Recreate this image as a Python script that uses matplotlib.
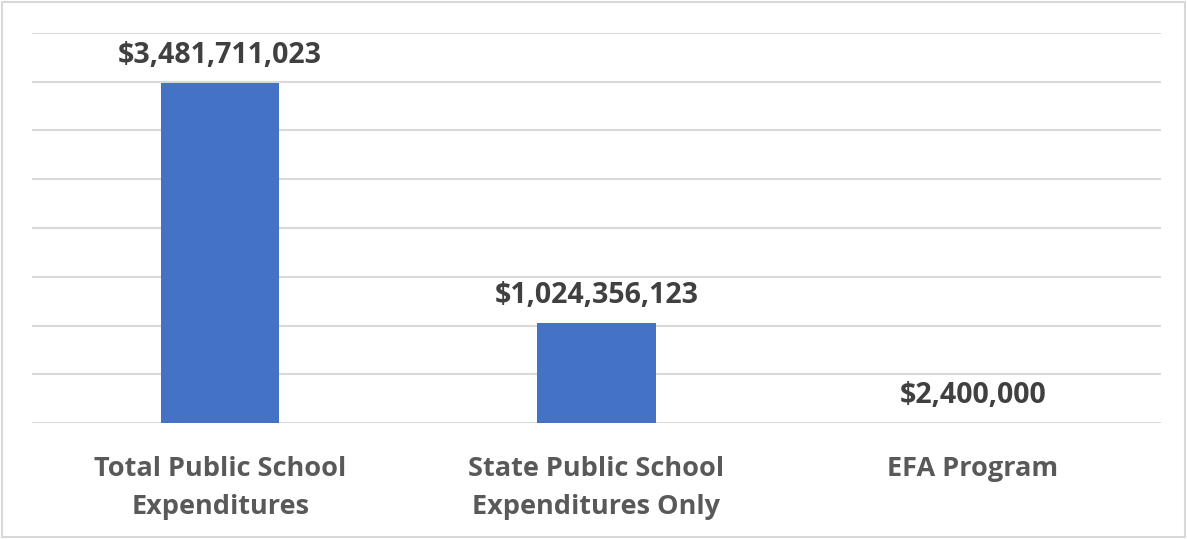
import matplotlib.pyplot as plt
from matplotlib.patches import Rectangle

# data
categories = ['Total Public School\nExpenditures', 'State Public School\nExpenditures Only', 'EFA Program']
values = [3481711023, 1024356123, 2400000]
labels = ['$3,481,711,023', '$1,024,356,123', '$2,400,000']

plt.rcParams['font.family'] = ['Open Sans', 'DejaVu Sans']

fig = plt.figure(figsize=(11.87, 5.39), dpi=100)
ax = fig.add_axes([32 / 1187, 1 - 423.3 / 539, 1129 / 1187, 390.6 / 539])

x = range(len(values))
ax.bar(x, values, width=0.314, color='#4472C4', zorder=3)

ax.set_ylim(0, 4e9)
ax.set_xlim(-0.5, 2.5)
ax.set_yticks([i * 0.5e9 for i in range(9)])
ax.yaxis.grid(True, color='#D9D9D9', linewidth=1.5, zorder=0)
ax.tick_params(axis='y', left=False, labelleft=False)
ax.tick_params(axis='x', bottom=False, pad=20)
ax.set_xticks(list(x))
ax.set_xticklabels(categories, fontsize=19.5, fontweight='bold', color='#595959', linespacing=1.6)
for s in ax.spines.values():
    s.set_visible(False)

# value labels
for i, v in enumerate(values):
    ax.annotate(labels[i], (i, v), xytext=(0, 13), textcoords='offset pixels',
                ha='center', va='bottom', fontsize=20.5, fontweight='bold', color='#404040')

# figure border
fig.patches.append(Rectangle((0.002, 0.003), 0.996, 0.994, transform=fig.transFigure,
                             fill=False, edgecolor='#D9D9D9', linewidth=1.5))

plt.savefig('out.png')
